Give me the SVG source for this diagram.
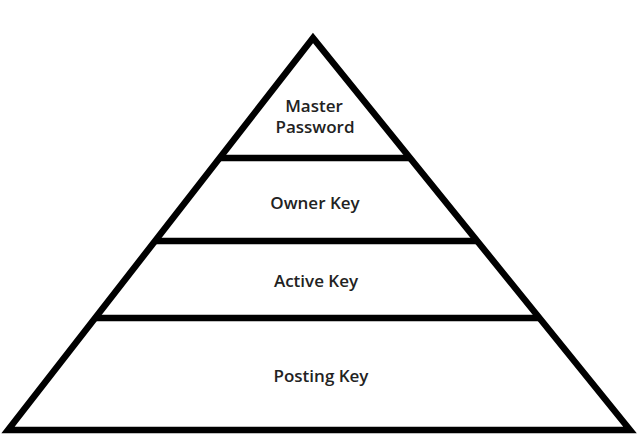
<svg xmlns="http://www.w3.org/2000/svg" width="640" height="444" viewBox="0 0 640 444">
<style>
.frame{fill:none;stroke:#000;stroke-width:6.5;stroke-linejoin:miter;stroke-miterlimit:10}
.div{stroke:#000;stroke-width:6.5}
.lbl{font-family:"Open Sans",Lato,"Liberation Sans",sans-serif;font-weight:600;font-size:17px;fill:#222;text-anchor:middle}
</style>
<rect width="640" height="444" fill="#fff"/>
<g id="pyramid">
<polygon class="frame" points="313,38 8,430 630,430"/>
<line class="div" x1="219" y1="158" x2="410" y2="158"/>
<line class="div" x1="155" y1="241" x2="477" y2="241"/>
<line class="div" x1="95" y1="318" x2="540" y2="318"/>
</g>
<g id="master-password">
<text class="lbl" x="314" y="112">Master</text>
<text class="lbl" x="315" y="133">Password</text>
</g>
<g id="owner-key"><text class="lbl" x="315" y="209">Owner Key</text></g>
<g id="active-key"><text class="lbl" x="316" y="287">Active Key</text></g>
<g id="posting-key"><text class="lbl" x="321" y="382">Posting Key</text></g>
</svg>
